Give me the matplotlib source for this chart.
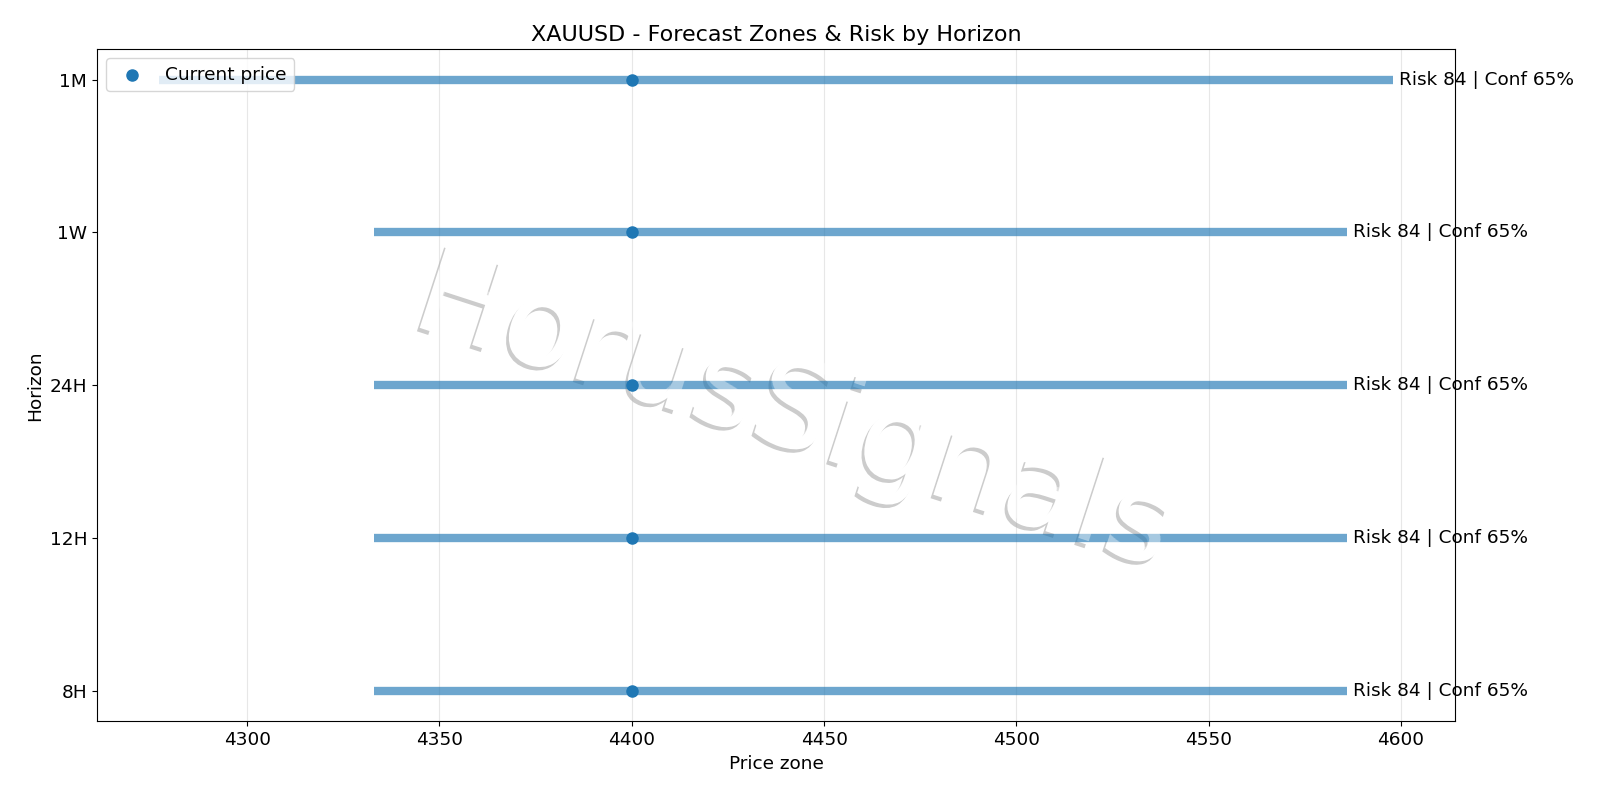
import matplotlib
matplotlib.use("Agg")
import matplotlib.pyplot as plt
import matplotlib.patheffects as pe

horizons = ["8H", "12H", "24H", "1W", "1M"]
low = [4333, 4333, 4333, 4333, 4277]
high = [4586, 4586, 4586, 4586, 4598]
current = [4400, 4400, 4400, 4400, 4400]
risk = [84, 84, 84, 84, 84]
conf = [65, 65, 65, 65, 65]

fs = 13.3

fig, ax = plt.subplots(figsize=(16, 8), dpi=100)
fig.subplots_adjust(left=0.0606, right=0.9094, top=0.9388, bottom=0.0982)
y = list(range(len(horizons)))

ax.hlines(y, low, high, linewidth=6, alpha=0.65, color="tab:blue")
ax.scatter(current, y, s=64, color="tab:blue", zorder=3, label="Current price")

for i in y:
    ax.text(high[i] + 1.5, i, f"Risk {risk[i]} | Conf {conf[i]}%", va="center", fontsize=fs)

ax.set_yticks(y)
ax.set_yticklabels(horizons)
ax.tick_params(labelsize=fs)
ax.set_xlabel("Price zone", fontsize=fs)
ax.set_ylabel("Horizon", fontsize=fs)
ax.set_title("XAUUSD - Forecast Zones & Risk by Horizon", fontsize=16)
ax.grid(axis="x", alpha=0.3)
ax.legend(loc="upper left", fontsize=fs)

# filigrane : ombre + fond blanc sous les lignes, voile blanc par-dessus
wm = dict(fontsize=87, rotation=-18, ha="center", va="center", transform=ax.transAxes)
ax.text(0.513, 0.457, "HorusSignals", color="white", zorder=0.9,
        path_effects=[pe.SimplePatchShadow(offset=(-2, -2.5), shadow_rgbFace="gray", alpha=0.4), pe.Normal()], **wm)
ax.text(0.513, 0.457, "HorusSignals", color="white", alpha=0.4, zorder=2.5, **wm)

fig.savefig("out.png")
